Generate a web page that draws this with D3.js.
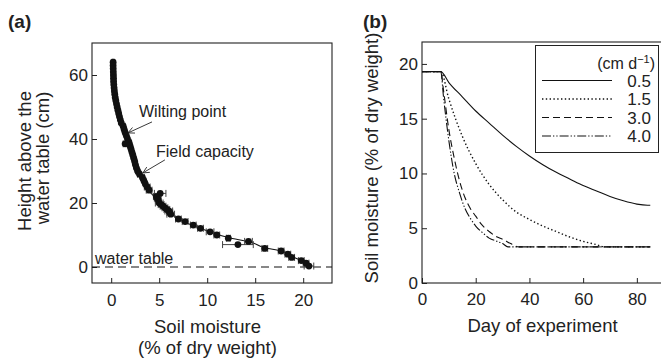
<!DOCTYPE html>
<html><head><meta charset="utf-8">
<script src="https://cdn.jsdelivr.net/npm/d3@7/dist/d3.min.js"></script>
<style>body{margin:0;background:#fff}text{font-family:"Liberation Sans",Arial,sans-serif;fill:#222}</style>
</head><body>
<script>
// ---------- Panel (a) data ----------
const heightA = [64,63,62,61,60,59,58,57,56,55,54,53,52,51,50,49,48,47,46,45,44,43,42,41,40,39,38.5,38,37,36,35,34,33,32,31,30,29,28,27,26,25,24,
  23,22,21.5,21,20,19.5,19,18.5,18,17.5,17,16.5,15,14.2,13.1,12.1,11,10,9,8,7,5.8,5,4,3,2,1.2,0.3];
const moistA = [0.20,0.20,0.21,0.22,0.23,0.24,0.25,0.27,0.30,0.33,0.37,0.42,0.48,0.55,0.62,0.70,0.78,0.86,0.95,1.05,1.25,1.35,1.45,1.58,1.70,1.85,1.45,1.95,2.05,2.15,2.25,2.35,2.45,2.52,2.62,2.75,2.95,3.25,3.40,3.55,3.75,3.95,
  5.1,4.7,4.8,4.9,5.0,5.2,5.4,5.6,5.8,6.0,6.1,6.2,7.0,7.7,8.55,9.3,10.3,11.0,12.2,14.3,13.2,16.0,17.7,18.4,18.8,19.8,20.3,20.6];
const errA = [0.1,0.1,0.1,0.1,0.1,0.1,0.1,0.1,0.1,0.1,0.1,0.1,0.1,0.1,0.1,0.1,0.1,0.1,0.1,0.1,0.2,0.2,0.2,0.2,0.2,0.2,0.2,0.2,0.2,0.2,0.2,0.2,0.2,0.2,0.2,0.2,0.2,0.2,0.2,0.2,0.3,0.3,
  0.6,0.3,0.3,0.3,0.4,0.3,0.3,0.3,0.3,0.4,0.3,0.4,0.3,0.3,0.3,0.3,0.4,0.3,0.2,0.4,1.6,0.3,0.3,0.3,0.3,0.3,0.3,0.5];
const fitMoist = [0.2,0.3,0.6,1.0,1.6,2.2,2.75,3.6,4.8,5.8,7.0,8.5,10.3,12.2,14.5,16.0,17.7,18.6,19.8,20.6];
const fitHeight = [64,57,51,46,40,35,30,25,21,18,15,13,11,9.2,7.8,6.0,5.0,3.6,2.0,0.3];
const ticksAX = [0,5,10,15,20];
const ticksAY = [0,20,40,60];
const annoText = ["Wilting point","Field capacity"];
const annoTip = [[1.75,41.9],[3.3,29.4]];

// ---------- Panel (b) data ----------
const days = [0,7,10,15,20,25,30,35,40,45,50,55,60,65,70,75,80,84,85];
const rate05 = [19.3,19.3,18.3,17.0,15.7,14.6,13.5,12.5,11.6,10.8,10.1,9.5,8.9,8.4,7.9,7.5,7.2,7.1,7.1];
const days15 = [0,7,10,15,20,25,30,35,40,45,50,55,60,65,68,85];
const rate15 = [19.3,19.3,16.8,13.4,10.9,9.0,7.6,6.5,5.8,5.2,4.7,4.2,3.8,3.5,3.3,3.3];
const days30 = [0,7,8,10,12,14,16,18,20,22,25,28,30,33,36,85];
const rate30 = [19.3,19.3,17.6,14.0,11.4,9.3,7.8,6.8,6.1,5.4,4.7,4.2,4.0,3.6,3.3,3.3];
const days40 = [0,7,8,10,12,14,16,18,20,23,25,28,30,32,85];
const rate40 = [19.3,19.3,17.0,13.0,10.0,8.2,6.8,5.9,5.2,4.5,4.1,3.8,3.6,3.3,3.3];
const legendLabels = ["0.5","1.5","3.0","4.0"];
const ticksBX = [0,20,40,60,80];
const ticksBY = [0,5,10,15,20];

const svg = d3.select("body").append("svg").attr("width",661).attr("height",360);
const ink = "#222";

// ---------- Panel (a) ----------
const xA = d3.scaleLinear([-2,23],[92,332]);
const yA = d3.scaleLinear([-5,70],[283,43]);
const gA = svg.append("g");

gA.append("g").attr("transform","translate(0,283)")
  .call(d3.axisBottom(xA).tickValues(ticksAX).tickSize(-5).tickPadding(11).tickFormat(d3.format("d")))
  .call(g=>{g.select(".domain").remove();g.selectAll("line").attr("stroke",ink);g.selectAll("text").attr("font-size",17).attr("fill",ink).style("font-family","Liberation Sans, Arial, sans-serif");});
gA.append("g").attr("transform","translate(92,0)")
  .call(d3.axisLeft(yA).tickValues(ticksAY).tickSize(-5).tickPadding(4).tickFormat(d3.format("d")))
  .call(g=>{g.select(".domain").remove();g.selectAll("line").attr("stroke",ink);g.selectAll("text").attr("font-size",17).attr("fill",ink).style("font-family","Liberation Sans, Arial, sans-serif");});
gA.append("rect").attr("x",xA.range()[0]).attr("y",yA.range()[1]).attr("width",xA.range()[1]-xA.range()[0]).attr("height",yA.range()[0]-yA.range()[1])
  .attr("fill","none").attr("stroke",ink).attr("stroke-width",1.1);

// water table
gA.append("line").attr("x1",xA.range()[0]).attr("x2",xA.range()[1]).attr("y1",yA(0)).attr("y2",yA(0))
  .attr("stroke","#111").attr("stroke-dasharray","8,5").attr("stroke-width",1.2);
gA.append("text").attr("x",95).attr("y",yA(0)-3).attr("font-size",16).text("water table");

// fit line
const fitData = fitMoist.map((m,i)=>[m,fitHeight[i]]);
gA.append("path").datum(fitData).attr("fill","none").attr("stroke","#111").attr("stroke-width",1.1)
  .attr("d",d3.line().x(d=>xA(d[0])).y(d=>yA(d[1])).curve(d3.curveMonotoneY));

const ptsA = moistA.map((m,i)=>({m,h:heightA[i],e:errA[i]}));
const eb = gA.append("g").attr("stroke","#444").attr("stroke-width",1);
eb.selectAll("line.h").data(ptsA).join("line").attr("x1",d=>xA(d.m-d.e)).attr("x2",d=>xA(d.m+d.e)).attr("y1",d=>yA(d.h)).attr("y2",d=>yA(d.h));
eb.selectAll("line.c1").data(ptsA).join("line").attr("x1",d=>xA(d.m-d.e)).attr("x2",d=>xA(d.m-d.e)).attr("y1",d=>yA(d.h)-3.5).attr("y2",d=>yA(d.h)+3.5);
eb.selectAll("line.c2").data(ptsA).join("line").attr("x1",d=>xA(d.m+d.e)).attr("x2",d=>xA(d.m+d.e)).attr("y1",d=>yA(d.h)-3.5).attr("y2",d=>yA(d.h)+3.5);
gA.append("g").selectAll("circle").data(ptsA).join("circle")
  .attr("cx",d=>xA(d.m)).attr("cy",d=>yA(d.h)).attr("r",3.4).attr("fill","#111");

// annotations
const annoOff = [[24,-11],[22,-13]];
annoText.forEach((t,i)=>{
  const tx = xA(annoTip[i][0]), ty = yA(annoTip[i][1]);
  const sx = tx+annoOff[i][0], sy = ty+annoOff[i][1];
  gA.append("line").attr("x1",sx).attr("y1",sy).attr("x2",tx).attr("y2",ty).attr("stroke",ink).attr("stroke-width",0.9);
  const ang = Math.atan2(sy-ty,sx-tx);
  [0.45,-0.45].forEach(a=>{
    gA.append("line").attr("x1",tx).attr("y1",ty)
      .attr("x2",tx+7*Math.cos(ang+a)).attr("y2",ty+7*Math.sin(ang+a)).attr("stroke",ink).attr("stroke-width",0.9);
  });
  gA.append("text").attr("x",i===0?139:156).attr("y",i===0?117:157).attr("font-size",16).text(t);
});

// labels (a)
svg.append("text").attr("x",8).attr("y",28).attr("font-size",19).attr("font-weight","bold").text("(a)");
svg.append("text").attr("transform","translate(31,161) rotate(-90)").attr("text-anchor","middle").attr("font-size",18.5).text("Height above the");
svg.append("text").attr("transform","translate(48.5,158) rotate(-90)").attr("text-anchor","middle").attr("font-size",18.5).text("water table (cm)");
svg.append("text").attr("x",207.5).attr("y",333).attr("text-anchor","middle").attr("font-size",18.5).text("Soil moisture");
svg.append("text").attr("x",207.5).attr("y",354).attr("text-anchor","middle").attr("font-size",18.5).text("(% of dry weight)");

// ---------- Panel (b) ----------
const xB = d3.scaleLinear([0,90],[422,663.7]);
const yB = d3.scaleLinear([0,22],[283,42]);
const gB = svg.append("g");
gB.append("g").attr("transform","translate(0,283)")
  .call(d3.axisBottom(xB).tickValues(ticksBX).tickSize(-5).tickPadding(10).tickFormat(d3.format("d")))
  .call(g=>{g.select(".domain").remove();g.selectAll("line").attr("stroke",ink);g.selectAll("text").attr("font-size",17).attr("fill",ink).style("font-family","Liberation Sans, Arial, sans-serif");});
gB.append("g").attr("transform","translate(422,0)")
  .call(d3.axisLeft(yB).tickValues(ticksBY).tickSize(-5).tickPadding(4).tickFormat(d3.format("d")))
  .call(g=>{g.select(".domain").remove();g.selectAll("line").attr("stroke",ink);g.selectAll("text").attr("font-size",17).attr("fill",ink).style("font-family","Liberation Sans, Arial, sans-serif");});
gB.append("rect").attr("x",xB.range()[0]).attr("y",yB.range()[1]).attr("width",xB.range()[1]-xB.range()[0]).attr("height",yB.range()[0]-yB.range()[1])
  .attr("fill","none").attr("stroke",ink).attr("stroke-width",1.1);

const series = [
  {d:days,v:rate05,dash:null,w:1.1},
  {d:days15,v:rate15,dash:"1.4,2.4",w:1.4},
  {d:days30,v:rate30,dash:"7,4",w:1.1},
  {d:days40,v:rate40,dash:"9,2,1.3,2,1.3,2",w:1.1}
];
const lineB = d3.line().x(d=>xB(d[0])).y(d=>yB(d[1])).curve(d3.curveMonotoneX);
series.forEach(s=>{
  gB.append("path").datum(s.d.map((x,i)=>[x,s.v[i]])).attr("fill","none").attr("stroke","#111")
    .attr("stroke-width",s.w).attr("stroke-dasharray",s.dash).attr("d",lineB);
});

// legend
const lg = gB.append("g");
lg.append("rect").attr("x",535.5).attr("y",45.5).attr("width",123).attr("height",107).attr("fill","#fff").attr("stroke",ink).attr("stroke-width",1);
const tt = lg.append("text").attr("x",655).attr("y",69).attr("text-anchor","end").attr("font-size",16);
tt.append("tspan").text("(cm d");
tt.append("tspan").attr("font-size",11).attr("dy",-6).text("\u22121");
tt.append("tspan").attr("dy",6).text(")");
legendLabels.forEach((l,i)=>{
  const y = 80.5+i*18.5;
  lg.append("line").attr("x1",542).attr("x2",612).attr("y1",y).attr("y2",y).attr("stroke","#111")
    .attr("stroke-width",series[i].w).attr("stroke-dasharray",series[i].dash);
  lg.append("text").attr("x",651).attr("y",y+6).attr("text-anchor","end").attr("font-size",17).text(l);
});

svg.append("text").attr("x",363).attr("y",28).attr("font-size",19).attr("font-weight","bold").text("(b)");
svg.append("text").attr("transform","translate(378,158) rotate(-90)").attr("text-anchor","middle").attr("font-size",18.5).text("Soil moisture (% of dry weight)");
svg.append("text").attr("x",542.5).attr("y",332).attr("text-anchor","middle").attr("font-size",18.5).text("Day of experiment");
</script>
</body></html>
